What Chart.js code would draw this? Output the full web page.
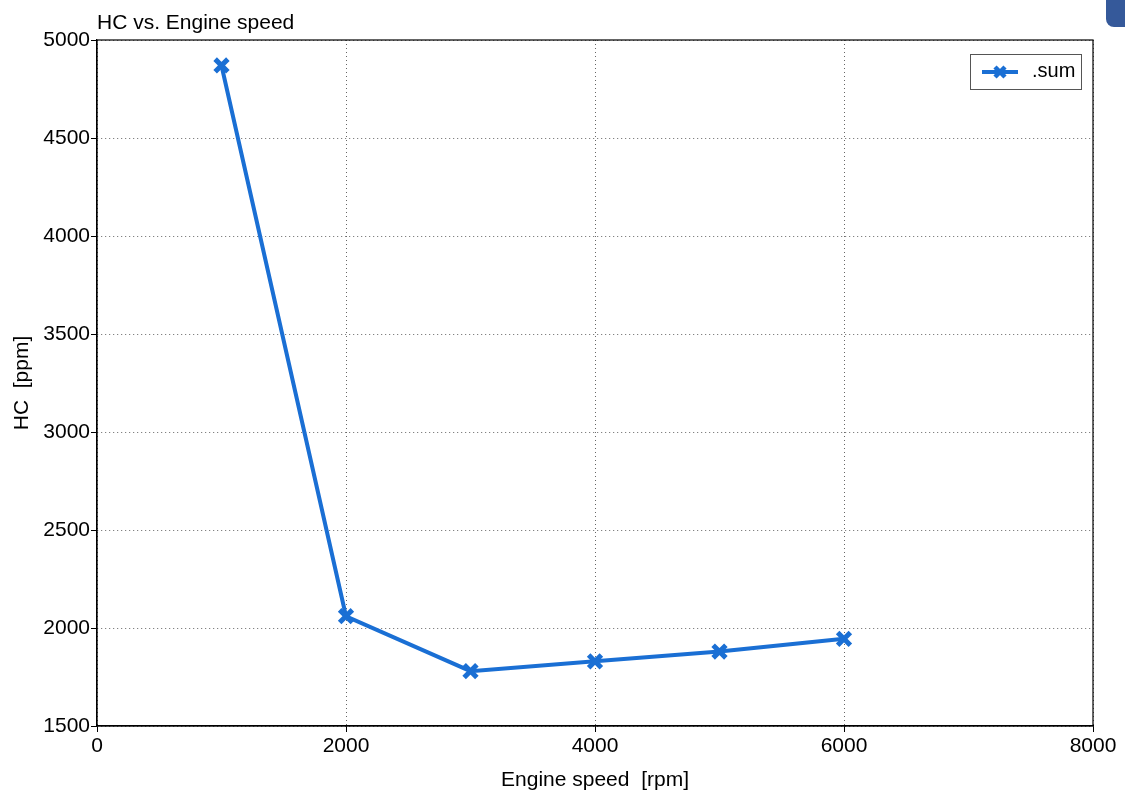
<!DOCTYPE html>
<html>
<head>
<meta charset="utf-8">
<script src="https://cdn.jsdelivr.net/npm/chart.js@4.4.0/dist/chart.umd.min.js"></script>
<style>
  html, body { margin: 0; padding: 0; background: #fff; }
  #wrap { width: 1125px; height: 793px; position: relative; }
</style>
</head>
<body>
<div id="wrap"><canvas id="grafico" width="1125" height="793"></canvas></div>
<script>
// data
const engineSpeed = [1000, 2000, 3000, 4000, 5000, 6000];
const hcSum = [4870, 2060, 1780, 1830, 1880, 1945];
const xTicks = [0, 2000, 4000, 6000, 8000];
const yTicks = [1500, 2000, 2500, 3000, 3500, 4000, 4500, 5000];

const blue = '#1a6fd4';
const fontFam = '"Liberation Sans", Arial, sans-serif';

const extras = {
  id: 'extras',
  afterDraw(chart) {
    const c = chart.ctx, a = chart.chartArea;
    c.save();
    // plot frame
    c.setLineDash([]);
    c.strokeStyle = '#000';
    c.lineWidth = 1.2;
    c.strokeRect(a.left, a.top, a.right - a.left, a.bottom - a.top);
    // title
    c.fillStyle = '#000';
    c.font = '21px ' + fontFam;
    c.textAlign = 'left';
    c.textBaseline = 'alphabetic';
    c.fillText('HC vs. Engine speed', a.left, 29);
    // legend box
    const lx = 970, ly = 54, lw = 111, lh = 35;
    c.fillStyle = '#fff';
    c.fillRect(lx, ly, lw, lh);
    c.strokeStyle = '#555';
    c.lineWidth = 1;
    c.strokeRect(lx + 0.5, ly + 0.5, lw, lh);
    c.strokeStyle = blue;
    c.lineWidth = 4;
    c.beginPath();
    c.moveTo(982, ly + 18); c.lineTo(1018, ly + 18);
    c.stroke();
    c.lineWidth = 4.5;
    c.beginPath();
    c.moveTo(995, ly + 13); c.lineTo(1005, ly + 23);
    c.moveTo(1005, ly + 13); c.lineTo(995, ly + 23);
    c.stroke();
    c.fillStyle = '#000';
    c.font = '20px ' + fontFam;
    c.textBaseline = 'middle';
    c.fillText('.sum', 1032, ly + 17);
    // corner artifact top right
    c.fillStyle = '#35599a';
    c.beginPath();
    c.roundRect(1106, -10, 40, 37, 8);
    c.fill();
    c.restore();
  }
};

const plain = v => String(v);

const ctx = document.getElementById('grafico').getContext('2d');
new Chart(ctx, {
  type: 'line',
  data: {
    datasets: [{
      label: '.sum',
      data: engineSpeed.map((x, i) => ({ x: x, y: hcSum[i] })),
      borderColor: blue,
      backgroundColor: blue,
      borderWidth: 4,
      pointStyle: 'crossRot',
      pointRadius: 9,
      pointBorderWidth: 5,
      pointBorderColor: blue,
      tension: 0
    }]
  },
  options: {
    responsive: false,
    animation: false,
    layout: { padding: { top: 40, right: 32, left: 0, bottom: 0 } },
    plugins: { legend: { display: false }, title: { display: false }, tooltip: { enabled: false } },
    scales: {
      x: {
        type: 'linear',
        min: 0, max: 8000,
        afterBuildTicks(s) { s.ticks = xTicks.map(v => ({ value: v })); },
        afterFit(s) { s.height = 67; },
        border: { display: true, color: '#000', width: 1.2, dash: [1, 3] },
        grid: { color: '#666', tickLength: 6, tickColor: '#000', lineWidth: 1 },
        ticks: { color: '#000', font: { family: fontFam, size: 21 }, padding: 2, maxRotation: 0, callback: plain },
        title: { display: true, text: 'Engine speed  [rpm]', color: '#000', font: { family: fontFam, size: 21 }, padding: { top: 8, bottom: 0 } }
      },
      y: {
        type: 'linear',
        min: 1500, max: 5000,
        afterBuildTicks(s) { s.ticks = yTicks.map(v => ({ value: v })); },
        afterFit(s) { s.width = 97; },
        border: { display: true, color: '#000', width: 1.2, dash: [1, 3] },
        grid: { color: '#666', tickLength: 6, tickColor: '#000', lineWidth: 1 },
        ticks: { color: '#000', font: { family: fontFam, size: 21 }, padding: 1, callback: plain },
        title: { display: true, text: 'HC  [ppm]', color: '#000', font: { family: fontFam, size: 21 }, padding: { top: 10, bottom: 4 } }
      }
    }
  },
  plugins: [extras]
});
</script>
</body>
</html>
